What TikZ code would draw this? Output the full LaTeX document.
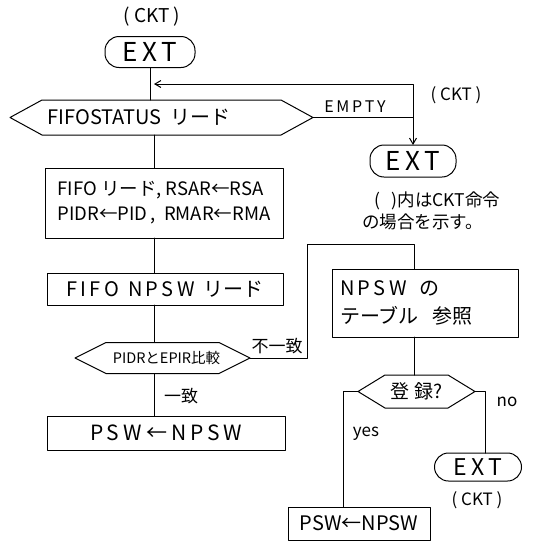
\documentclass[tikz,border=0pt]{standalone}
\usepackage{fontspec}
\setmainfont{Noto Sans CJK JP}
\usetikzlibrary{arrows.meta}
\begin{document}
\begin{tikzpicture}[x=1pt,y=-1pt,
  ln/.style={line width=1pt, line cap=round, line join=round},
  arr/.style={ln, -{Straight Barb[length=6pt,width=7pt,line width=1pt]}},
  boxn/.style={draw, ln, inner sep=2pt, outer sep=0pt, font=\fontsize{18.5}{21}\selectfont},
  term/.style={draw, ln, inner sep=0pt, outer sep=0pt, rounded corners=14pt, font=\fontsize{26}{28}\selectfont},
  hexn/.style={inner sep=0pt, outer sep=0pt, font=\fontsize{20}{22}\selectfont},
  lab/.style={inner sep=0pt, font=\fontsize{16}{19}\selectfont},
]
\newcommand\hexpath[2]{\draw[ln] ([xshift=#2]#1.north west) -- ([xshift=-#2]#1.north east) -- (#1.east) -- ([xshift=-#2]#1.south east) -- ([xshift=#2]#1.south west) -- (#1.west) -- cycle;}
\useasboundingbox (0,0) rectangle (537,544);
\fill[white] (0,0) rectangle (537,544);
% axes
\coordinate (ax) at (154,0);
\coordinate (ax2) at (414,0);
\coordinate (yx) at (343,0);
\coordinate (nx) at (485,0);
% nodes
\node[lab, font=\fontsize{19}{21}\selectfont] (ckt1) at (152,17) {(\ CKT\ )};
\node[term, minimum width=90pt, minimum height=31pt] (ext1) at (150,52) {E\,X\,T};
\node[hexn, minimum width=303pt, minimum height=35pt] (h1) at (161.5,117.5) {\hspace*{-45pt}FIFOSTATUS\ \ リード};
\hexpath{h1}{32}
\node[lab] (empty) at (355,107) {E\,M\,P\,T\,Y};
\node[lab, font=\fontsize{17}{19}\selectfont] (ckt2) at (456,95) {(\ CKT\ )};
\node[term, minimum width=86pt, minimum height=32pt] (ext2) at (413,161) {E\,X\,T};
\coordinate (j1) at (154,84);
\node[boxn, minimum width=238pt, minimum height=70pt, align=left] (b1) at (164,203)
  {FIFO\ リード, RSAR←RSA\\[4pt]PIDR←PID\,,\ \ RMAR←RMA};
\node[lab, align=left, anchor=west, font=\fontsize{17.5}{20}\selectfont] (note) at (362,211) {\hspace*{12pt}(\ \ \ )内はCKT命令\\[2pt]の場合を示す。};
\node[boxn, minimum width=236pt, minimum height=32pt, font=\fontsize{20}{22}\selectfont] (b2) at (165,289) {F\,I\,F\,O\ \ N\,P\,S\,W\ \ リード};
\node[hexn, minimum width=175pt, minimum height=31pt, font=\fontsize{14.5}{16}\selectfont] (h2) at (162.5,358) {\hspace*{8pt}PIDRとEPIR比較};
\hexpath{h2}{31}
\node[lab, font=\fontsize{17}{19}\selectfont] (fuitchi) at (277,346) {不一致};
\node[lab, font=\fontsize{17}{19}\selectfont] (itchi) at (181,396) {一致};
\coordinate (c1) at (307,244);
\node[boxn, minimum width=186pt, minimum height=68pt, align=left, text width=170pt, font=\fontsize{20}{22}\selectfont] (b3) at (425,303)
  {N\,P\,S\,W\ \ の\\[6pt]テーブル\ \ 参照};
\node[hexn, minimum width=117pt, minimum height=33pt, font=\fontsize{19}{21}\selectfont] (d1) at (416.5,391.5) {登\ 録?};
\hexpath{d1}{27}
\node[lab, font=\fontsize{17}{19}\selectfont] (yes) at (366,434) {yes};
\node[lab, font=\fontsize{17}{19}\selectfont] (no) at (507,402) {no};
\node[term, minimum width=87pt, minimum height=28pt, font=\fontsize{23}{25}\selectfont] (ext3) at (478,467) {E\,X\,T};
\node[lab, font=\fontsize{17}{19}\selectfont] (ckt3) at (477,500) {(\ CKT\ )};
\node[boxn, minimum width=142pt, minimum height=33pt, font=\fontsize{20}{22}\selectfont] (b4) at (359,523.5) {PSW←NPSW};
\node[boxn, minimum width=238pt, minimum height=34pt, font=\fontsize{21}{23}\selectfont] (b5) at (166,433) {P\,S\,W\ ←\ N\,P\,S\,W};
% connectors
\draw[ln] (ext1.south) -- (ext1.south |- h1.north);
\draw[arr] (h1.east) -| (ext2.north);
\draw[arr] (h1.east -| ext2.north) |- (j1);
\draw[ln] (b1.north -| ax) -- (h1.south -| ax);
\draw[ln] (b1.south -| ax) -- (b2.north -| ax);
\draw[ln] (b2.south -| ax) -- (h2.north -| ax);
\draw[ln] (h2.south -| ax) -- (b5.north -| ax);
\draw[ln] (h2.east) -| (c1) -| (ax2 |- b3.north);
\draw[ln] (ax2 |- b3.south) -- (ax2 |- d1.north);
\draw[ln] (d1.west) -| (yx |- b4.north);
\draw[ln] (d1.east) -| (nx |- ext3.north);
\end{tikzpicture}
\end{document}
